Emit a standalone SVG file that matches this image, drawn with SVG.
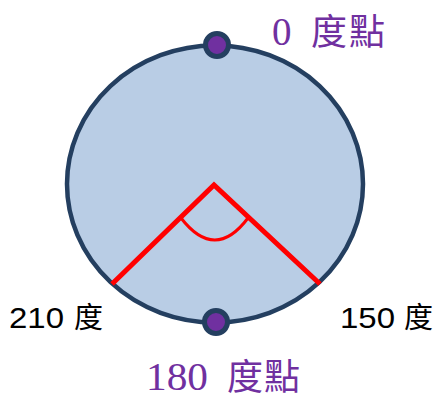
<svg xmlns="http://www.w3.org/2000/svg" width="436" height="399" viewBox="0 0 436 399">
<style>
.dot{fill:#7030A0;stroke:#243F60;stroke-width:5}
.red{fill:none;stroke:#FF0000;stroke-linecap:butt}
.pt{font-family:"Liberation Serif","Noto Sans CJK TC",serif;font-size:39px;fill:#7030A0}
.pc{font-size:36px}
.dg{font-family:"Liberation Sans","Noto Sans CJK TC",sans-serif;font-size:30px;fill:#000}
.dc{font-size:29px}
</style>
<g id="circle"><ellipse cx="215" cy="184" rx="148" ry="138.5" fill="#B9CDE5" stroke="#243F60" stroke-width="4.5"/></g>
<g id="connectors">
<polyline class="red" stroke-width="5" points="112,284 214,185 320,284"/>
<path class="red" stroke-width="3" d="M181,218 Q215,262 248,218"/>
</g>
<g id="top-point"><circle class="dot" cx="217" cy="45" r="11.5"/><text class="pt" x="272" y="45">0<tspan class="pc" x="311" y="45">度</tspan><tspan class="pc" x="349" y="45">點</tspan></text></g>
<g id="bottom-point"><circle class="dot" cx="216" cy="322" r="11.5"/><text class="pt" x="146" y="390" textLength="62" lengthAdjust="spacingAndGlyphs">180</text><text class="pt pc" x="227" y="390">度</text><text class="pt pc" x="264" y="390">點</text></g>
<g id="label-210"><text class="dg" x="9" y="328" textLength="55" lengthAdjust="spacingAndGlyphs">210</text><text class="dg dc" x="74" y="328">度</text></g>
<g id="label-150"><text class="dg" x="340" y="328" textLength="55" lengthAdjust="spacingAndGlyphs">150</text><text class="dg dc" x="404" y="328">度</text></g>
</svg>
